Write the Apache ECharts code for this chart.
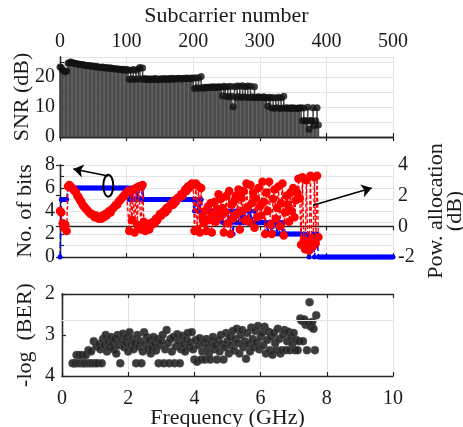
<!DOCTYPE html>
<html>
<head>
<meta charset="utf-8">
<script src="https://cdn.jsdelivr.net/npm/echarts@6/dist/echarts.min.js"></script>
<style>
html,body{margin:0;padding:0;background:#fff;}
#chart{width:463px;height:427px;}
</style>
</head>
<body>
<div id="chart"></div>
<script>
// ---- data (subcarriers sampled every 2nd index) ----
const subcarrierStep = 2;
// SNR (dB) for subcarriers 0,2,...,388
const snrDb = [
  23.4, 23.2, 22.4, 22.0, 21.8, 22.0, 24.6, 24.8, 25.0, 24.8,
  24.7, 24.6, 24.5, 24.3, 24.4, 24.2, 24.1, 24.2, 24.0, 23.9,
  23.9, 23.8, 23.9, 23.7, 23.6, 23.7, 23.5, 23.4, 23.5, 23.3,
  23.3, 23.2, 23.4, 23.1, 23.0, 23.2, 23.0, 22.9, 23.1, 22.8,
  22.9, 22.7, 22.8, 22.6, 22.7, 22.5, 22.6, 22.4, 22.6, 22.3,
  22.5, 22.4, 19.3, 22.3, 19.4, 22.5, 19.2, 22.3, 19.4, 22.8,
  23.2, 19.3, 23.0, 19.5, 19.2, 19.4, 19.3, 19.1, 19.4, 19.2,
  19.3, 19.5, 19.2, 19.4, 19.1, 19.3, 19.4, 19.2, 19.5, 19.3,
  19.4, 19.2, 19.5, 19.3, 19.6, 19.4, 19.3, 19.5, 19.4, 19.6,
  19.5, 19.3, 19.6, 19.4, 19.5, 19.7, 19.5, 19.6, 19.4, 19.7,
  19.6, 16.2, 19.8, 16.4, 19.7, 16.3, 20.2, 16.5, 16.3, 16.6,
  16.4, 16.6, 16.5, 16.7, 16.5, 16.8, 16.6, 16.7, 16.5, 16.8,
  16.7, 16.6, 13.8, 16.9, 16.7, 13.5, 16.8, 13.4, 16.9, 13.6,
  10.1, 16.8, 13.3, 17.0, 13.5, 16.9, 13.2, 17.1, 13.4, 16.8,
  13.3, 17.0, 13.2, 16.9, 13.4, 13.1, 16.8, 13.3, 13.2, 13.4,
  13.2, 13.3, 13.1, 13.4, 13.2, 13.0, 10.3, 13.3, 13.1, 9.7,
  13.2, 9.6, 13.0, 9.8, 13.3, 9.5, 13.1, 9.7, 13.6, 9.6,
  9.8, 9.6, 9.7, 9.5, 9.8, 9.6, 9.7, 9.5, 9.6, 9.7,
  9.6, 9.8, 5.4, 9.7, 5.5, 5.3, 9.9, 2.6, 5.5, 5.4,
  9.8, 3.8, 5.4, 9.8, 4.0
];
// bits per subcarrier for subcarriers 0,2,...,500
const bitsLoaded = [
  0, 5, 5, 5, 5, 5, 6, 6, 6, 6,
  6, 6, 6, 6, 6, 6, 6, 6, 6, 6,
  6, 6, 6, 6, 6, 6, 6, 6, 6, 6,
  6, 6, 6, 6, 6, 6, 6, 6, 6, 6,
  6, 6, 6, 6, 6, 6, 6, 6, 6, 6,
  6, 6, 5, 6, 5, 6, 5, 6, 5, 6,
  6, 5, 6, 5, 5, 5, 5, 5, 5, 5,
  5, 5, 5, 5, 5, 5, 5, 5, 5, 5,
  5, 5, 5, 5, 5, 5, 5, 5, 5, 5,
  5, 5, 5, 5, 5, 5, 5, 5, 5, 5,
  5, 4, 5, 4, 5, 4, 5, 4, 4, 4,
  4, 4, 4, 4, 4, 4, 4, 4, 4, 4,
  4, 4, 3, 4, 4, 3, 4, 3, 4, 3,
  2, 4, 3, 4, 3, 4, 3, 4, 3, 4,
  3, 4, 3, 4, 3, 3, 4, 3, 3, 3,
  3, 3, 3, 3, 3, 3, 2, 3, 3, 2,
  3, 2, 3, 2, 3, 2, 3, 2, 3, 2,
  2, 2, 2, 2, 2, 2, 2, 2, 2, 2,
  2, 2, 1, 2, 1, 1, 2, 0, 1, 1,
  2, 0, 1, 2, 0, 0, 0, 0, 0, 0,
  0, 0, 0, 0, 0, 0, 0, 0, 0, 0,
  0, 0, 0, 0, 0, 0, 0, 0, 0, 0,
  0, 0, 0, 0, 0, 0, 0, 0, 0, 0,
  0, 0, 0, 0, 0, 0, 0, 0, 0, 0,
  0, 0, 0, 0, 0, 0, 0, 0, 0, 0,
  0
];
// power allocation (dB) for subcarriers 0,2,...,388
const powerDb = [
  1.0, 0.9, 0.2, -0.1, 0.1, -0.3, 2.6, 2.7, 2.6, 2.5,
  2.4, 2.3, 2.2, 2.0, 1.9, 1.7, 1.6, 1.4, 1.3, 1.2,
  1.1, 1.0, 0.9, 0.8, 0.8, 0.7, 0.6, 0.7, 0.6, 0.5,
  0.6, 0.5, 0.7, 0.6, 0.8, 0.7, 0.9, 1.0, 0.9, 1.1,
  1.2, 1.3, 1.4, 1.4, 1.6, 1.7, 1.8, 1.9, 2.0, 2.1,
  2.2, 2.3, -0.3, 2.3, 0.4, 2.4, -0.4, 2.5, 0.1, 2.6,
  2.6, -0.2, 2.7, 0.3, -0.3, -0.1, 0.0, -0.2, 0.2, 0.1,
  0.3, 0.2, 0.5, 0.4, 0.6, 0.8, 0.7, 0.9, 1.0, 0.9,
  1.2, 1.1, 1.3, 1.4, 1.5, 1.4, 1.7, 1.6, 1.8, 1.9,
  1.9, 2.1, 2.0, 2.2, 2.4, 2.3, 2.6, 2.5, 2.7, 2.8,
  2.7, -0.3, 2.8, -0.2, 2.6, -0.4, 2.5, 0.6, 0.2, 1.0,
  -0.3, 1.3, 0.4, 1.5, -0.4, 0.8, 1.6, 0.3, 1.1, 2.1,
  0.6, 1.8, 1.2, -0.4, 0.9, 2.0, 0.2, 2.3, -0.5, 1.4,
  0.5, 1.7, 2.0, 0.8, 2.4, -0.2, 1.9, 1.0, 2.3, 0.4,
  2.8, 1.2, 0.3, 2.7, 1.5, 2.2, -0.1, 1.8, 0.6, 2.5,
  1.3, 0.7, 2.9, 1.6, -0.5, 2.2, 1.0, 2.9, 0.1, -0.5,
  1.8, 2.4, 0.5, 1.2, 2.6, 0.0, 1.5, 2.8, -0.6, 0.9,
  2.0, 1.4, 0.3, 2.2, 1.0, 2.5, 0.6, 1.7, 2.2, 3.1,
  1.8, -1.2, 3.2, -0.9, -1.5, 3.0, -1.0, -1.6, 3.3, -0.8,
  -1.3, 3.2, -1.1, 3.3, -0.7
];
// -log10(BER) for subcarriers 16,18,...,384
const berFirstSubcarrier = 16;
const ghzPerSubcarrier = 0.02;
const negLogBer = [
  3.69, 3.69, 3.69, 3.49, 3.69, 3.49, 3.69, 3.49, 3.69, 3.69,
  3.49, 3.69, 3.37, 3.69, 3.40, 3.69, 3.15, 3.69, 3.28, 3.69,
  3.22, 3.35, 3.69, 3.10, 3.25, 3.00, 3.40, 3.15, 3.30, 3.05,
  3.20, 3.35, 3.10, 3.45, 3.00, 3.25, 3.69, 3.12, 2.97, 3.30,
  3.18, 3.05, 3.40, 2.93, 3.25, 3.10, 3.35, 3.20, 3.69, 3.00,
  3.28, 3.15, 3.69, 3.40, 2.93, 3.22, 3.05, 3.35, 3.12, 3.45,
  3.30, 3.05, 3.20, 3.38, 3.10, 3.69, 3.25, 3.15, 3.00, 3.69,
  3.35, 2.88, 3.20, 3.69, 3.10, 3.40, 3.05, 3.69, 3.28, 2.98,
  3.15, 3.69, 3.35, 3.02, 3.22, 3.40, 3.10, 2.95, 3.30, 3.18,
  2.93, 3.35, 3.60, 3.12, 3.65, 3.25, 3.08, 3.60, 3.40, 3.20,
  3.60, 3.10, 3.30, 3.45, 3.60, 3.18, 3.05, 3.35, 3.25, 3.60,
  3.12, 3.40, 3.00, 3.22, 3.60, 3.30, 2.95, 3.15, 3.45, 3.05,
  3.25, 2.90, 3.38, 3.10, 2.85, 3.20, 3.45, 3.00, 2.88, 3.30,
  3.15, 3.58, 2.95, 3.22, 3.40, 2.82, 3.10, 3.30, 2.90, 3.18,
  2.78, 3.35, 3.05, 2.95, 3.25, 2.80, 3.45, 3.12, 2.92, 3.37,
  3.05, 3.48, 2.95, 3.20, 3.37, 2.85, 3.10, 3.45, 3.37, 3.00,
  2.88, 3.37, 3.15, 2.92, 3.37, 3.05, 3.22, 2.95, 3.37, 3.12,
  3.37, 3.15, 2.60, 2.65, 3.15, 2.62, 2.75, 3.37, 2.70, 2.20,
  2.80, 2.68, 2.85, 3.37, 2.52
];
const berRefLine = 2.63;

// ---- build ----
const snrPts = snrDb.map((v, i) => [i * subcarrierStep, v]);
const bitPts = bitsLoaded.map((v, i) => [i * subcarrierStep, v]);
const powPts = powerDb.map((v, i) => [i * subcarrierStep, v]);
const berPts = negLogBer.map((v, i) => [(berFirstSubcarrier + i * subcarrierStep) * ghzPerSubcarrier, v]);

const FONT = '"Liberation Serif", "Times New Roman", serif';
const AX = '#262626';
const GRIDC = '#e3e3e3';
const lbl = (extra) => Object.assign({fontFamily: FONT, fontSize: 20, color: '#1a1a1a'}, extra || {});
const nameStyle = {fontFamily: FONT, fontSize: 22, color: '#1a1a1a'};
const axLine = {show: true, lineStyle: {color: AX, width: 1.3}};
const tickIn = {show: true, inside: true, length: 4, lineStyle: {color: AX, width: 1.2}};
const gridBase = {containLabel: false, outerBoundsMode: 'none'};

const chart = echarts.init(document.getElementById('chart'), null, {renderer: 'canvas'});

const option = {
  animation: false,
  backgroundColor: '#fff',
  textStyle: {fontFamily: FONT},
  grid: [
    Object.assign({left: 60, right: 70, top: 57, height: 80}, gridBase),
    Object.assign({left: 60, right: 70, top: 165, height: 92}, gridBase),
    Object.assign({left: 62, right: 70, top: 294, height: 82}, gridBase)
  ],
  xAxis: [
    {gridIndex: 0, type: 'value', position: 'top', min: 0, max: 500, interval: 100,
     name: 'Subcarrier number', nameLocation: 'middle', nameGap: 30, nameTextStyle: nameStyle,
     axisLine: axLine, axisTick: tickIn, axisLabel: lbl({margin: 5}),
     splitLine: {show: true, lineStyle: {color: GRIDC, width: 1}}},
    {gridIndex: 0, type: 'value', position: 'bottom', min: 0, max: 500, interval: 100,
     axisLine: axLine, axisTick: tickIn, axisLabel: {show: false}, splitLine: {show: false}},
    {gridIndex: 1, type: 'value', position: 'bottom', min: 0, max: 500, interval: 100,
     axisLine: axLine, axisTick: tickIn, axisLabel: {show: false},
     splitLine: {show: true, lineStyle: {color: GRIDC, width: 1}}},
    {gridIndex: 1, type: 'value', position: 'top', min: 0, max: 500, interval: 100,
     axisLine: axLine, axisTick: tickIn, axisLabel: {show: false}, splitLine: {show: false}},
    {gridIndex: 2, type: 'value', position: 'bottom', min: 0, max: 10, interval: 2,
     name: 'Frequency (GHz)', nameLocation: 'middle', nameGap: 31, nameMoveOverlap: false, nameTextStyle: nameStyle,
     axisLine: axLine, axisTick: tickIn, axisLabel: lbl({margin: 13}),
     splitLine: {show: true, lineStyle: {color: GRIDC, width: 1}}},
    {gridIndex: 2, type: 'value', position: 'top', min: 0, max: 10, interval: 2,
     axisLine: axLine, axisTick: tickIn, axisLabel: {show: false}, splitLine: {show: false}}
  ],
  yAxis: [
    {gridIndex: 0, type: 'value', position: 'left', min: 0, max: 26.7, interval: 5,
     name: 'SNR (dB)', nameLocation: 'middle', nameRotate: 90, nameGap: 27, nameMoveOverlap: false, nameTextStyle: nameStyle,
     axisLine: axLine, axisTick: tickIn,
     axisLabel: lbl({margin: 5, showMaxLabel: false, formatter: v => (v % 10 === 0 ? String(v) : '')}),
     splitLine: {show: true, lineStyle: {color: GRIDC, width: 1}}},
    {gridIndex: 0, type: 'value', position: 'right', min: 0, max: 26.7, interval: 5,
     axisLine: axLine, axisTick: {show: false}, axisLabel: {show: false}, splitLine: {show: false}},
    {gridIndex: 1, type: 'value', position: 'left', min: 0, max: 8, interval: 1,
     name: 'No. of bits', nameLocation: 'middle', nameRotate: 90, nameGap: 24, nameMoveOverlap: false, nameTextStyle: nameStyle,
     axisLine: axLine, axisTick: tickIn,
     axisLabel: lbl({margin: 5, formatter: v => (v % 2 === 0 ? String(v) : '')}),
     splitLine: {show: true, lineStyle: {color: GRIDC, width: 1}}},
    {gridIndex: 1, type: 'value', position: 'right', min: -2, max: 4, interval: 2,
     name: 'Pow. allocation\n(dB)', nameLocation: 'middle', nameRotate: 90, nameGap: 34,
     nameTextStyle: Object.assign({lineHeight: 19}, nameStyle),
     axisLine: axLine, axisTick: tickIn, axisLabel: lbl({margin: 5}), splitLine: {show: false}},
    {gridIndex: 2, type: 'value', position: 'left', inverse: true, min: 2, max: 4, interval: 1,
     name: '-log  (BER)', nameLocation: 'middle', nameRotate: 90, nameGap: 26, nameMoveOverlap: false, nameTextStyle: nameStyle,
     axisLine: axLine, axisTick: tickIn, axisLabel: lbl({margin: 7}), splitLine: {show: false}},
    {gridIndex: 2, type: 'value', position: 'right', inverse: true, min: 2, max: 4, interval: 1,
     axisLine: axLine, axisTick: {show: false}, axisLabel: {show: false}, splitLine: {show: false}}
  ],
  series: [
    {type: 'bar', xAxisIndex: 0, yAxisIndex: 0, data: snrPts, barWidth: 1.6,
     itemStyle: {color: '#4b4b4b'}, silent: true, z: 2},
    {type: 'scatter', xAxisIndex: 0, yAxisIndex: 0, data: snrPts, symbol: 'circle', symbolSize: 7,
     itemStyle: {color: '#111'}, silent: true, z: 3},
    {type: 'line', xAxisIndex: 2, yAxisIndex: 2, data: bitPts, symbol: 'circle', symbolSize: 5,
     showSymbol: true, showAllSymbol: true,
     lineStyle: {color: '#0000ff', width: 1.5, type: 'dashed'}, itemStyle: {color: '#0000ff'}, silent: true, z: 3,
     markLine: {silent: true, symbol: ['none', 'arrow'], symbolSize: 10,
       lineStyle: {color: '#000', width: 1.6, type: 'solid'}, label: {show: false},
       data: [
         [{coord: [72.5, 7.04]}, {coord: [20, 7.65]}],
         [{coord: [380, 4.5]}, {coord: [468, 6.0]}]
       ]}},
    {type: 'line', xAxisIndex: 2, yAxisIndex: 3, data: powPts, symbol: 'circle', symbolSize: 8.5,
     showSymbol: true, showAllSymbol: true,
     lineStyle: {color: '#ff0000', width: 1.4, type: [4, 2]}, itemStyle: {color: '#ff0000'}, silent: true, z: 4},
    {type: 'scatter', xAxisIndex: 4, yAxisIndex: 4, data: berPts, symbol: 'circle', symbolSize: 8,
     itemStyle: {color: '#262626', opacity: 0.9, borderColor: '#555', borderWidth: 0.6}, silent: true, z: 3,
     markLine: {silent: true, symbol: 'none', lineStyle: {color: GRIDC, width: 1, type: 'solid'},
       label: {show: false}, data: [{yAxis: berRefLine}]}}
  ]
};
chart.setOption(option);

// ellipse annotation around the bit-loading curve
const c = chart.convertToPixel({xAxisIndex: 2, yAxisIndex: 2}, [72.5, 6.2]);
const e = chart.convertToPixel({xAxisIndex: 2, yAxisIndex: 2}, [80, 7.15]);
chart.setOption({
  graphic: [{type: 'ellipse', z: 10, silent: true,
    shape: {cx: c[0], cy: c[1], rx: Math.abs(e[0] - c[0]), ry: Math.abs(c[1] - e[1])},
    style: {fill: null, stroke: '#000', lineWidth: 2}}]
});
</script>
</body>
</html>
